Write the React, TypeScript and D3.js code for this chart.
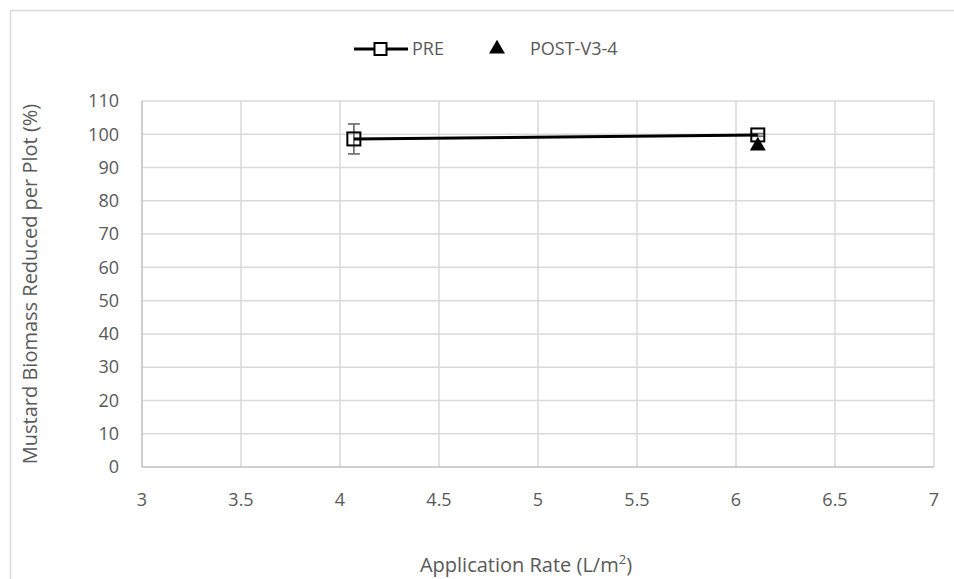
import React from "react";
import * as d3 from "d3";

const xTicks = [3, 3.5, 4, 4.5, 5, 5.5, 6, 6.5, 7];
const yTicks = [0, 10, 20, 30, 40, 50, 60, 70, 80, 90, 100, 110];
const preX = [4.07, 6.11];
const preY = [98.6, 99.8];
const preErr = [4.5, 0.4];
const postX = [6.11];
const postY = [96.2];

const W = 954, H = 579;
const FONT = "'Open Sans', 'Liberation Sans', sans-serif";
const TXT = "#595959";

export default function App() {
  const x = d3.scaleLinear().domain([3, 7]).range([142, 934]);
  const y = d3.scaleLinear().domain([0, 110]).range([467, 101]);
  const line = d3.line<number>().x((_, i) => x(preX[i])).y((d) => y(d));
  const tri = d3.symbol().type(d3.symbolTriangle).size(110)();
  return (
    <svg width={W} height={H} style={{ position: "absolute", left: 0, top: 0 }} fontFamily={FONT}>
      <rect x={0} y={0} width={W} height={H} fill="#fff" />
      <path d={`M10.5,${H} V10.5 H${W}`} fill="none" stroke="#d9d9d9" strokeWidth={1.5} />
      {xTicks.slice(1).map((t) => (
        <line key={"gx" + t} x1={x(t)} x2={x(t)} y1={y(0)} y2={y(110)} stroke="#d9d9d9" strokeWidth={1.5} />
      ))}
      {yTicks.slice(1).map((t) => (
        <line key={"gy" + t} x1={x(3)} x2={x(7)} y1={y(t)} y2={y(t)} stroke="#d9d9d9" strokeWidth={1.5} />
      ))}
      <line x1={x(3)} x2={x(3)} y1={y(0)} y2={y(110)} stroke="#bfbfbf" strokeWidth={1.5} />
      <line x1={x(3)} x2={x(7)} y1={y(0)} y2={y(0)} stroke="#bfbfbf" strokeWidth={1.5} />
      {yTicks.map((t) => (
        <text key={"ty" + t} x={x(3) - 23} y={y(t)} dy="0.35em" textAnchor="end" fontSize={18} fill={TXT}>{t}</text>
      ))}
      {xTicks.map((t) => (
        <text key={"tx" + t} x={x(t)} y={y(0) + 33} dy="0.35em" textAnchor="middle" fontSize={18} fill={TXT}>{t}</text>
      ))}
      <text x={526} y={572} textAnchor="middle" fontSize={20} fill={TXT}>
        Application Rate (L/m<tspan dy={-8} fontSize={13}>2</tspan><tspan dy={8}>)</tspan>
      </text>
      <text transform={`translate(37,${y(55)}) rotate(-90)`} textAnchor="middle" fontSize={20} fill={TXT}>
        Mustard Biomass Reduced per Plot (%)
      </text>
      {preX.map((v, i) => (
        <g key={"e" + i} stroke="#737373" strokeWidth={1.75}>
          <line x1={x(v)} x2={x(v)} y1={y(preY[i] + preErr[i])} y2={y(preY[i] - preErr[i])} />
          <line x1={x(v) - 6} x2={x(v) + 6} y1={y(preY[i] + preErr[i])} y2={y(preY[i] + preErr[i])} />
          <line x1={x(v) - 6} x2={x(v) + 6} y1={y(preY[i] - preErr[i])} y2={y(preY[i] - preErr[i])} />
        </g>
      ))}
      <path d={line(preY) || ""} fill="none" stroke="#000" strokeWidth={3} />
      {postX.map((v, i) => (
        <path key={"p" + i} d={tri || ""} transform={`translate(${x(v)},${y(postY[i]) - 1})`} fill="#000" />
      ))}
      {preX.map((v, i) => (
        <rect key={"s" + i} x={x(v) - 6.5} y={y(preY[i]) - 6.5} width={13} height={13} fill="none" stroke="#000" strokeWidth={2} />
      ))}
      <line x1={354} x2={408} y1={49} y2={49} stroke="#000" strokeWidth={3} />
      <rect x={374.5} y={43} width={12} height={12} fill="#fff" stroke="#000" strokeWidth={2} />
      <text x={412} y={49} dy="0.35em" fontSize={18} fill={TXT}>PRE</text>
      <path d={tri || ""} transform="translate(497,49)" fill="#000" />
      <text x={530} y={49} dy="0.35em" fontSize={18} fill={TXT}>POST-V3-4</text>
    </svg>
  );
}
